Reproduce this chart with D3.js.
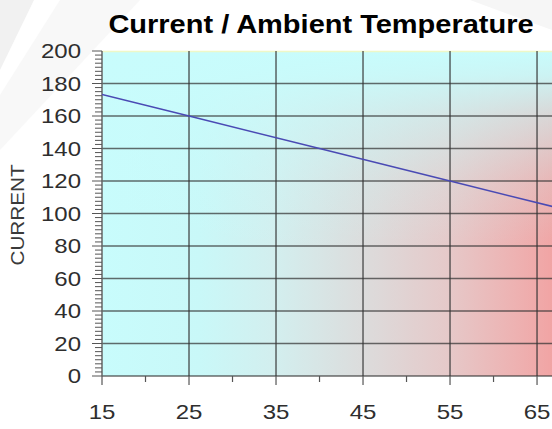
<!DOCTYPE html>
<html>
<head>
<meta charset="utf-8">
<script src="https://cdn.jsdelivr.net/npm/d3@7"></script>
<style>
  html, body { margin: 0; padding: 0; background: #ffffff; }
  svg { display: block; }
  text { font-family: "Liberation Sans", Arial, sans-serif; }
</style>
</head>
<body>
<div id="chart"></div>
<script>
// ---- data ----
const title = "Current / Ambient Temperature";
const yLabel = "CURRENT";
const temperatures = [15, 25, 40, 55, 70];
const currents = [173.3, 160, 140, 120, 100];
const xTickValues = [15, 25, 35, 45, 55, 65];
const xMinorTickValues = [20, 30, 40, 50, 60];
const yTickValues = [0, 20, 40, 60, 80, 100, 120, 140, 160, 180, 200];

// ---- layout ----
const W = 552, H = 429;
const plot = { left: 102, top: 51, right: 552, bottom: 376 };

const svg = d3.select("#chart").append("svg")
  .attr("width", W).attr("height", H);

// faint page decoration
svg.append("path").attr("d", "M0,0 L34,0 L0,70 Z").attr("fill", "#f1f1f1");
svg.append("path").attr("d", "M60,0 L140,0 L0,150 L0,95 Z").attr("fill", "#f8f8f8");
svg.append("path").attr("d", "M470,0 L552,0 L552,30 Z").attr("fill", "#f6f6f6");

const x = d3.scaleLinear().domain([15, 66.72]).range([plot.left, plot.right]);
const y = d3.scaleLinear().domain([0, 200]).range([plot.bottom, plot.top]);

// gradient background: horizontal cyan -> gray -> pink, with cyan fade at top
const defs = svg.append("defs");
const hg = defs.append("linearGradient")
  .attr("id", "bgH").attr("gradientUnits", "userSpaceOnUse")
  .attr("x1", plot.left).attr("x2", plot.right).attr("y1", 0).attr("y2", 0);
[[102, "#c8fcfc"], [200, "#c9f8f8"], [278, "#d3eeee"], [363, "#dcdcdc"],
 [451, "#e6c8c8"], [520, "#eeb0b0"], [552, "#f1a4a4"]].forEach(([px, c]) => {
  hg.append("stop").attr("offset", (px - plot.left) / (plot.right - plot.left)).attr("stop-color", c);
});
const vg = defs.append("linearGradient")
  .attr("id", "bgV").attr("gradientUnits", "userSpaceOnUse")
  .attr("x1", 0).attr("x2", 0).attr("y1", plot.top).attr("y2", 250);
[[0, 1], [0.12, 0.9], [0.32, 0.58], [0.65, 0.22], [1, 0]].forEach(([o, a]) => {
  vg.append("stop").attr("offset", o).attr("stop-color", "#c8fcfc").attr("stop-opacity", a);
});

const pw = plot.right - plot.left, ph = plot.bottom - plot.top;
svg.append("rect").attr("x", plot.left).attr("y", plot.top)
  .attr("width", pw).attr("height", ph).attr("fill", "url(#bgH)");
svg.append("rect").attr("x", plot.left).attr("y", plot.top)
  .attr("width", pw).attr("height", ph).attr("fill", "url(#bgV)");

// top light edge
svg.append("line")
  .attr("x1", plot.left).attr("x2", plot.right)
  .attr("y1", plot.top + 0.5).attr("y2", plot.top + 0.5)
  .attr("stroke", "#eef8c8").attr("stroke-width", 1.5);

// grid
const grid = svg.append("g").attr("stroke", "#333").attr("stroke-opacity", 0.72).attr("stroke-width", 1.6);
grid.selectAll(".hg").data(yTickValues.filter(v => v < 200)).join("line")
  .attr("x1", plot.left).attr("x2", plot.right)
  .attr("y1", d => y(d)).attr("y2", d => y(d));
grid.selectAll(".vg").data(xTickValues.slice(1)).join("line")
  .attr("y1", plot.top).attr("y2", plot.bottom)
  .attr("x1", d => x(d)).attr("x2", d => x(d));

// left axis line
svg.append("line")
  .attr("x1", plot.left).attr("x2", plot.left)
  .attr("y1", plot.top).attr("y2", plot.bottom)
  .attr("stroke", "#666").attr("stroke-width", 1.5);

// y ticks (major + minor)
const yMinor = d3.range(0, 200.01, 2.5);
svg.append("g").selectAll("line").data(yMinor).join("line")
  .attr("x1", d => (d % 20 === 0 ? plot.left - 10 : plot.left - 7))
  .attr("x2", plot.left)
  .attr("y1", d => y(d)).attr("y2", d => y(d))
  .attr("stroke", "#555").attr("stroke-width", 1);

// x ticks
svg.append("g").selectAll("line").data(xTickValues).join("line")
  .attr("x1", d => x(d)).attr("x2", d => x(d))
  .attr("y1", plot.bottom).attr("y2", plot.bottom + 9)
  .attr("stroke", "#555").attr("stroke-width", 1.2);
svg.append("g").selectAll("line").data(xMinorTickValues).join("line")
  .attr("x1", d => x(d)).attr("x2", d => x(d))
  .attr("y1", plot.bottom).attr("y2", plot.bottom + 6)
  .attr("stroke", "#555").attr("stroke-width", 1.2);

// y tick labels
svg.append("g").selectAll("text").data(yTickValues).join("text")
  .attr("transform", d => `translate(81,${y(d) + 7}) scale(1.2,1)`)
  .attr("text-anchor", "end")
  .attr("font-size", 20)
  .attr("fill", "#2e2e2e")
  .text(d => d);

// x tick labels
svg.append("g").selectAll("text").data(xTickValues).join("text")
  .attr("transform", d => `translate(${x(d)},419) scale(1.2,1)`)
  .attr("text-anchor", "middle")
  .attr("font-size", 20)
  .attr("fill", "#2e2e2e")
  .text(d => d);

// y axis title
svg.append("text")
  .attr("transform", "translate(24,215) rotate(-90) scale(1.15,1)")
  .attr("text-anchor", "middle")
  .attr("font-size", 18)
  .attr("fill", "#3a3a3a")
  .text(yLabel);

// chart title
svg.append("text")
  .attr("transform", "translate(321,33) scale(1.16,1)")
  .attr("text-anchor", "middle")
  .attr("font-size", 25)
  .attr("font-weight", "bold")
  .attr("fill", "#000")
  .text(title);

// data line
const series = temperatures.map((t, i) => ({ t, c: currents[i] }));
svg.append("clipPath").attr("id", "clip").append("rect")
  .attr("x", plot.left).attr("y", plot.top)
  .attr("width", pw).attr("height", ph);
svg.append("path")
  .datum(series)
  .attr("clip-path", "url(#clip)")
  .attr("fill", "none")
  .attr("stroke", "#4a4ab4")
  .attr("stroke-width", 1.5)
  .attr("d", d3.line().x(d => x(d.t)).y(d => y(d.c)));
</script>
</body>
</html>
